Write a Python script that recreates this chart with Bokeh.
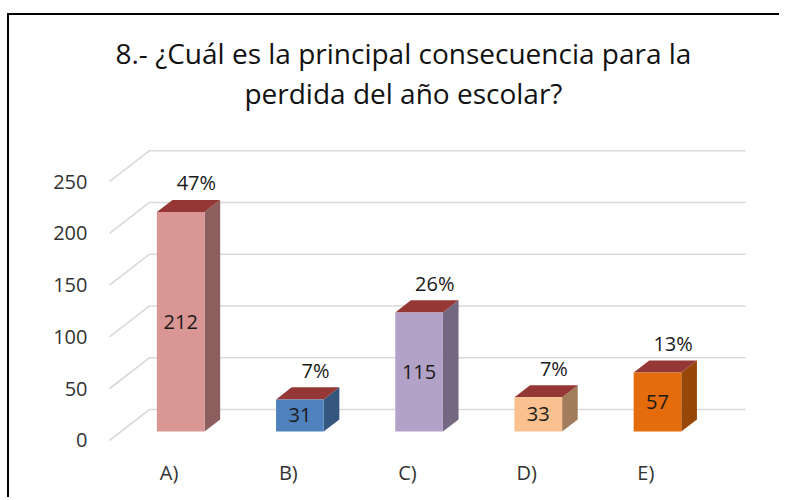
from bokeh.plotting import figure
from bokeh.models import Range1d, FixedTicker, Label
from bokeh.embed import file_html
from bokeh.resources import INLINE
from bokeh.core.properties import value

# ---- data ----
categories = ["A)", "B)", "C)", "D)", "E)"]
counts = [212, 31, 115, 33, 57]
percents = ["47%", "7%", "26%", "7%", "13%"]
y_ticks = [0, 50, 100, 150, 200, 250]
front_colors = ["#D99694", "#4F81BD", "#B3A2C7", "#FAC090", "#E46C0A"]
side_colors = ["#8C5F5E", "#35567F", "#736880", "#A27D5D", "#974808"]
top_color = "#953735"
title_lines = ["8.- ¿Cuál es la principal consecuencia para la",
               "perdida del año escolar?"]

# ---- oblique projection parameters (depth offset) ----
DX, DY = 0.336, 30.0   # full depth offset in x units / value units
D0, D1 = 0.29, 0.68    # bar front / back depth
HW = 0.2               # half bar width
FONT = "Open Sans"
TXT = "#333333"


def proj(x, v, d):
    return x + d * DX, v + d * DY


p = figure(width=772, height=484, output_backend="svg", toolbar_location=None,
           x_range=Range1d(-0.5755, 5.138), y_range=Range1d(-18.36, 410.6),
           min_border_left=91, min_border_right=0, min_border_top=0,
           min_border_bottom=40)
p.outline_line_color = None
p.grid.visible = False
p.styles = {"margin-top": "13px", "margin-left": "7px",
            "border-top": "2px solid black", "border-left": "2px solid black"}

# axes
p.yaxis.ticker = FixedTicker(ticks=y_ticks)
p.xaxis.ticker = FixedTicker(ticks=list(range(len(categories))))
p.xaxis.major_label_overrides = {i: c for i, c in enumerate(categories)}
for ax in (p.xaxis, p.yaxis):
    ax.axis_line_color = None
    ax.major_tick_line_color = None
    ax.minor_tick_line_color = None
    ax.major_label_text_font = FONT
    ax.major_label_text_font_size = "20px"
    ax.major_label_text_color = TXT
p.yaxis.major_label_standoff = 7
p.xaxis.major_label_standoff = -7

# gridlines: diagonal on the side wall + horizontal on back wall
n = len(categories)
gx, gy = [], []
for v in y_ticks:
    fx, fy = proj(-0.5, v, 0.0)
    bx, by = proj(-0.5, v, 1.0)
    ex, ey = proj(n - 0.5, v, 1.0)
    gx.append([fx, bx, ex])
    gy.append([fy, by, ey])
p.multi_line(gx, gy, line_color="#D9D9D9", line_width=1.6)

# bars
for i, c in enumerate(counts):
    l0, b0 = proj(i - HW, 0, D0)
    r0, t0 = proj(i + HW, c, D0)
    # side
    sx = [proj(i + HW, 0, D0)[0], proj(i + HW, 0, D1)[0], proj(i + HW, c, D1)[0], proj(i + HW, c, D0)[0]]
    sy = [proj(i + HW, 0, D0)[1], proj(i + HW, 0, D1)[1], proj(i + HW, c, D1)[1], proj(i + HW, c, D0)[1]]
    p.patch(sx, sy, fill_color=side_colors[i], line_color=None)
    # top
    tx = [proj(i - HW, c, D0)[0], proj(i + HW, c, D0)[0], proj(i + HW, c, D1)[0], proj(i - HW, c, D1)[0]]
    ty = [proj(i - HW, c, D0)[1], proj(i + HW, c, D0)[1], proj(i + HW, c, D1)[1], proj(i - HW, c, D1)[1]]
    p.patch(tx, ty, fill_color=top_color, line_color=None)
    # front
    p.quad(left=l0, right=r0, bottom=b0, top=t0, fill_color=front_colors[i], line_color=None)

# value labels inside bars
vx = [proj(i, 0, D0)[0] for i in range(n)]
vy = [proj(i, c / 2, D0)[1] for i, c in enumerate(counts)]
p.text(vx, vy, text=[str(c) for c in counts], text_align="center", text_baseline="middle",
       text_font=value(FONT), text_font_size="20px", text_color="#1a1a1a")

# percentage labels above bars
px_ = [proj(i, 0, D1)[0] for i in range(n)]
py_ = [proj(i, c, D1)[1] + 16.5 for i, c in enumerate(counts)]
p.text(px_, py_, text=percents, text_align="center", text_baseline="middle",
       text_font=value(FONT), text_font_size="20px", text_color="#1a1a1a")

# title
for txt, ty_ in zip(title_lines, [374, 336]):
    p.add_layout(Label(x=1.966, y=ty_, text=txt, text_align="center", text_baseline="middle",
                       text_font=FONT, text_font_size="28px", text_color="#111111"))

open("out.html", "w").write(file_html(p, INLINE))
